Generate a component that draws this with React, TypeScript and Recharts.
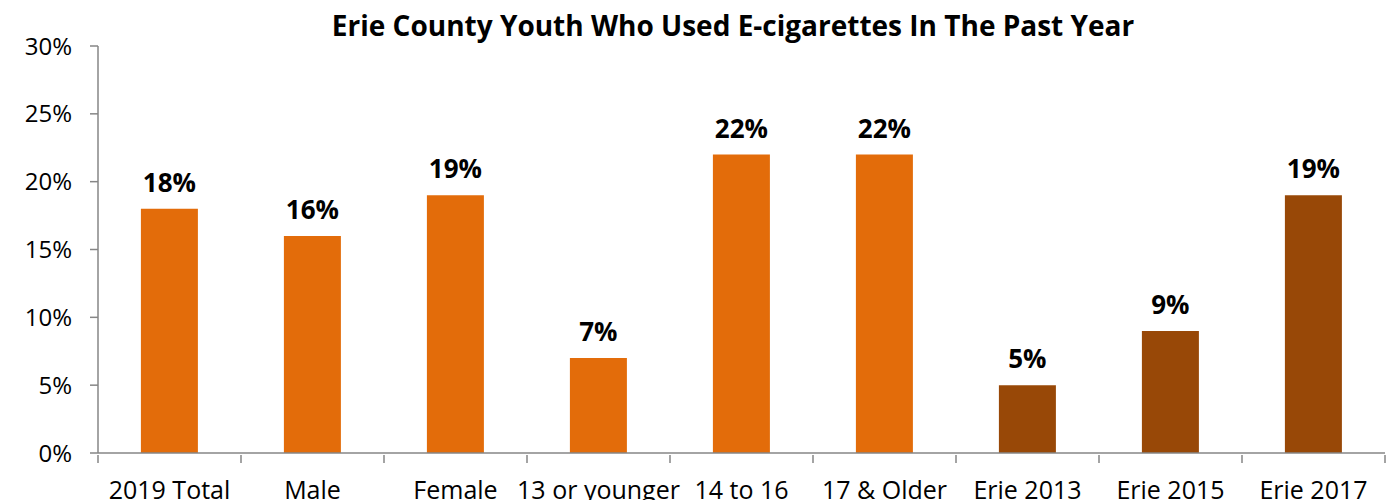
import { BarChart, Bar, XAxis, YAxis, Cell, LabelList } from 'recharts';

// --- Data ---

const categories = ['2019 Total', 'Male', 'Female', '13 or younger', '14 to 16', '17 & Older', 'Erie 2013', 'Erie 2015', 'Erie 2017'];
const values = [18, 16, 19, 7, 22, 22, 5, 9, 19];
const isTrend = [false, false, false, false, false, false, true, true, true];
const yTicks = [0, 5, 10, 15, 20, 25, 30];

const ORANGE = '#E36C0A';
const BROWN = '#984807';
const FONT = '"Open Sans", "Noto Sans", sans-serif';

const data = categories.map((name, i) => ({ name, value: values[i], trend: isTrend[i] }));

const WIDTH = 1386;
const HEIGHT = 500;
const LEFT = 98;
const RIGHT = 1;
const BAND = (WIDTH - LEFT - RIGHT) / categories.length;

// category ticks sit on the band boundaries, labels in the middle
const CategoryTick = (props: any) => {
  const { x, y, payload, index } = props;
  const last = index === categories.length - 1;
  return (
    <g>
      <line x1={x - BAND / 2} y1={y - 8} x2={x - BAND / 2} y2={y} stroke="#868686" strokeWidth={1.5} />
      {last && <line x1={x + BAND / 2} y1={y - 8} x2={x + BAND / 2} y2={y} stroke="#868686" strokeWidth={1.5} />}
      <text x={x} y={y + 36} textAnchor="middle" fill="#000" fontSize={25} fontFamily={FONT}>
        {payload.value}
      </text>
    </g>
  );
};

export default function App() {
  return (
    <div style={{ position: 'absolute', left: 0, top: 0, width: WIDTH, height: HEIGHT, background: '#fff' }}>
      <BarChart
        width={WIDTH}
        height={HEIGHT}
        data={data}
        margin={{ top: 46, right: RIGHT, left: 0, bottom: 0 }}
        barCategoryGap="30%"
      >
        <text x={733} y={36} textAnchor="middle" fontSize={28} fontWeight="bold" fontFamily={FONT} fill="#000">
          Erie County Youth Who Used E-cigarettes In The Past Year
        </text>
        <XAxis
          dataKey="name"
          height={47}
          axisLine={{ stroke: '#868686', strokeWidth: 1.5 }}
          tickLine={false}
          tick={<CategoryTick />}
          tickSize={8}
          interval={0}
        />
        <YAxis
          width={LEFT}
          domain={[0, 30]}
          ticks={yTicks}
          interval={0}
          axisLine={{ stroke: '#868686', strokeWidth: 1.5 }}
          tickLine={{ stroke: '#868686', strokeWidth: 1.5 }}
          tickSize={8}
          tickMargin={18}
          tick={{ fill: '#000', fontSize: 24, fontFamily: FONT }}
          tickFormatter={(v) => `${v}%`}
        />
        <Bar dataKey="value" isAnimationActive={false}>
          {data.map((d, i) => (
            <Cell key={i} fill={d.trend ? BROWN : ORANGE} />
          ))}
          <LabelList
            dataKey="value"
            position="top"
            offset={17}
            formatter={(v: any) => `${v}%`}
            style={{ fill: '#000', fontSize: 26, fontWeight: 'bold', fontFamily: FONT }}
          />
        </Bar>
      </BarChart>
    </div>
  );
}
